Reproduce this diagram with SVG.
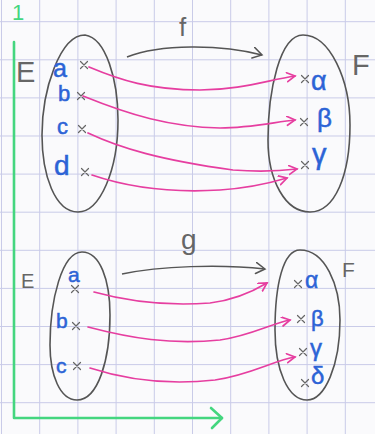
<svg xmlns="http://www.w3.org/2000/svg" width="375" height="434" viewBox="0 0 375 434">
<style>
.grid{stroke:#c9cbe8;stroke-width:1;fill:none}
.set{fill:none;stroke:#555;stroke-width:1.6}
.map{fill:none;stroke:#555;stroke-width:1.5}
.pink{fill:none;stroke:#e63ea0;stroke-width:1.7;stroke-linecap:round}
.axis{fill:none;stroke:#44d67f;stroke-width:2.6;stroke-linecap:round;stroke-linejoin:round}
.pt{fill:none;stroke:#666;stroke-width:1.2;stroke-linecap:round}
.lbl{font-family:"Liberation Sans","DejaVu Sans",sans-serif;fill:#2c63d6;stroke:#2c63d6;stroke-width:0.5}
.pen{font-family:"Liberation Sans","DejaVu Sans",sans-serif;fill:#666}
</style>
<defs>
<marker id="pa" markerUnits="userSpaceOnUse" markerWidth="12" markerHeight="12" refX="9" refY="5" orient="auto">
<path d="M1,0.5 L9,5 L1,9.5" fill="none" stroke="#e63ea0" stroke-width="1.7" stroke-linecap="round"/>
</marker>
<marker id="ga" markerUnits="userSpaceOnUse" markerWidth="14" markerHeight="14" refX="10" refY="6" orient="auto">
<path d="M1,0.5 L10,6 L1,11.5" fill="none" stroke="#555" stroke-width="1.5" stroke-linecap="round"/>
</marker>
<path id="x" d="M-3.5,-3.5 L3.5,3.5 M-3.5,3.5 L3.5,-3.5"/>
</defs>
<rect width="375" height="434" fill="#fafafc"/>
<path class="grid" d="M1.5,0V434M39.7,0V434M77.9,0V434M116.1,0V434M154.3,0V434M192.5,0V434M230.7,0V434M268.9,0V434M307.1,0V434M345.3,0V434M0,21.7H375M0,59.8H375M0,97.9H375M0,136H375M0,174.1H375M0,212.2H375M0,250.3H375M0,288.4H375M0,326.5H375M0,364.6H375M0,402.7H375"/>

<g id="axes">
<text x="12" y="20" font-family="Liberation Sans, sans-serif" font-size="22" fill="#44d67f">1</text>
<path class="axis" d="M14,42 V418 H222"/>
<path class="axis" d="M211,408 L222,418 L212,428"/>
</g>

<g id="E1">
<path class="set" d="M85,35 C106,38 118,80 118,120 C118,170 100,212 78,212 C55,212 42,175 42,135 C42,90 60,35 85,35 Z"/>
<text class="pen" x="16" y="82" font-size="29">E</text>
<use href="#x" class="pt" x="84" y="65"/>
<use href="#x" class="pt" x="81" y="96"/>
<use href="#x" class="pt" x="82" y="129"/>
<use href="#x" class="pt" x="85" y="172"/>
<text class="lbl" x="53" y="77" font-size="25">a</text>
<text class="lbl" x="58" y="101" font-size="22">b</text>
<text class="lbl" x="57" y="134" font-size="22">c</text>
<text class="lbl" x="54" y="175" font-size="28">d</text>
</g>

<g id="F1">
<path class="set" d="M303,35 C330,35 350,80 350,125 C350,175 335,212 310,212 C285,212 268,180 268,140 C268,90 280,35 303,35 Z"/>
<text class="pen" x="352" y="75" font-size="29">F</text>
<use href="#x" class="pt" x="305" y="79"/>
<use href="#x" class="pt" x="304" y="122"/>
<use href="#x" class="pt" x="305" y="165"/>
<text class="lbl" x="311" y="90" font-size="27">α</text>
<text class="lbl" x="317" y="127" font-size="26">β</text>
<text class="lbl" x="312" y="164" font-size="29">γ</text>
</g>

<g id="E2">
<path class="set" d="M82,252 C100,252 110,280 110,315 C110,360 98,400 77,400 C60,400 50,375 50,345 C50,300 62,252 82,252 Z"/>
<text class="pen" x="21" y="288" font-size="20">E</text>
<use href="#x" class="pt" x="75" y="289"/>
<use href="#x" class="pt" x="76" y="326"/>
<use href="#x" class="pt" x="77" y="366"/>
<text class="lbl" x="68" y="282" font-size="21">a</text>
<text class="lbl" x="56" y="328" font-size="21">b</text>
<text class="lbl" x="56" y="373" font-size="21">c</text>
</g>

<g id="F2">
<path class="set" d="M300,250 C325,250 340,285 340,320 C340,365 325,400 307,400 C288,400 275,370 275,330 C275,285 283,250 300,250 Z"/>
<text class="pen" x="342" y="277" font-size="21">F</text>
<use href="#x" class="pt" x="298" y="284"/>
<use href="#x" class="pt" x="301" y="319"/>
<use href="#x" class="pt" x="303" y="352"/>
<use href="#x" class="pt" x="305" y="383"/>
<text class="lbl" x="305" y="288" font-size="23">α</text>
<text class="lbl" x="311" y="326" font-size="22">β</text>
<text class="lbl" x="310" y="356" font-size="24">γ</text>
<text class="lbl" x="311" y="384" font-size="24">δ</text>
</g>

<g id="connectors">
<path class="map" marker-end="url(#ga)" d="M127,57 C160,44 220,44 262,55"/>
<text class="pen" x="179" y="36" font-size="26">f</text>
<path class="map" marker-end="url(#ga)" d="M122,274 C160,266 220,264 265,269"/>
<text class="pen" x="181" y="249" font-size="28">g</text>

<path class="pink" marker-end="url(#pa)" d="M89,67 C120,80 150,90 200,90 C240,90 268,80 295,76"/>
<path class="pink" marker-end="url(#pa)" d="M83,96 C130,115 170,127 220,128 C250,128 275,122 295,120"/>
<path class="pink" marker-end="url(#pa)" d="M88,133 C120,148 160,160 233,170 C260,172 280,171 297,169"/>
<path class="pink" marker-end="url(#pa)" d="M92,175 C130,188 170,193 220,190 C250,188 270,183 287,178"/>

<path class="pink" marker-end="url(#pa)" d="M94,292 C130,302 170,306 210,303 C235,300 252,292 267,283"/>
<path class="pink" marker-end="url(#pa)" d="M88,327 C130,338 170,345 220,340 C250,336 270,324 290,320"/>
<path class="pink" marker-end="url(#pa)" d="M90,368 C130,381 170,385 215,380 C250,375 275,360 295,357"/>
</g>
</svg>
